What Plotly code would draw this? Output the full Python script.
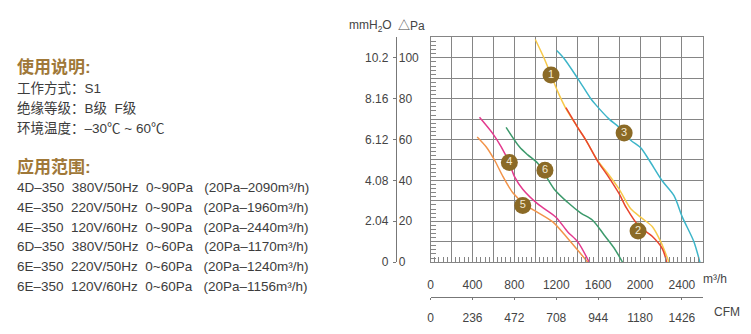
import plotly.graph_objects as go

W, H = 751, 334

# ---------------- data ----------------
x_ticks = [0, 400, 800, 1200, 1600, 2000, 2400]
x_tick_m3h = ["0", "400", "800", "1200", "1600", "2000", "2400"]
x_tick_cfm = ["0", "236", "472", "708", "944", "1180", "1426"]
y_ticks = [0, 20, 40, 60, 80, 100]
y_tick_pa = ["0", "20", "40", "60", "80", "100"]
y_tick_mm = ["0", "2.04", "4.08", "6.12", "8.16", "10.2"]

c1_x = [1000, 1086, 1150, 1213, 1292, 1404, 1483, 1594, 1689, 1800, 1911, 2023, 2118, 2197, 2276]
c1_y = [109, 99.6, 91.6, 83.6, 75.2, 66, 59.7, 49.8, 43.6, 35.7, 26.1, 21.3, 17.3, 10, 0]
c2_x = [1292, 1404, 1483, 1594, 1689, 1800, 1870, 1990, 2118, 2213, 2254]
c2_y = [75.6, 66, 59.7, 49.5, 42.5, 33.5, 26.5, 17.5, 12.5, 6.5, 0]
c3_x = [1204, 1276, 1404, 1530, 1578, 1705, 1800, 1911, 2006, 2086, 2213, 2324, 2404, 2514, 2571]
c3_y = [103.6, 99.6, 90, 80, 77, 70, 66, 59.7, 56, 50, 39.7, 32.5, 22, 10, 0]
c4_x = [467, 594, 673, 752, 800, 880, 1023, 1197, 1308, 1404, 1514]
c4_y = [70.9, 62.9, 56.5, 48.5, 42, 35.7, 28.5, 22, 14.9, 10, 0]
c5_x = [445, 530, 610, 690, 785, 914, 990, 1166, 1308, 1500]
c5_y = [61.3, 56.5, 50, 42, 34, 27.7, 25.3, 19.7, 11.7, 0]
c6_x = [721, 848, 928, 1023, 1181, 1308, 1435, 1547, 1657, 1752, 1832]
c6_y = [66, 56.5, 52.5, 48.4, 35.7, 29.3, 24, 20.5, 13.3, 6.9, 0]

label_text = ["1", "2", "3", "4", "5", "6"]
label_x = [1150, 1981, 1848, 752, 880, 1092]
label_y = [91.6, 15.2, 63.2, 48.8, 27.7, 45]

intro_title = "使用说明:"
intro_lines = ["工作方式：S1", "绝缘等级：B级  F级", "环境温度：–30℃ ~ 60℃"]
range_title = "应用范围:"
range_lines = [
    "4D–350  380V/50Hz  0~90Pa   (20Pa–2090m³/h)",
    "4E–350  220V/50Hz  0~90Pa   (20Pa–1960m³/h)",
    "4E–350  120V/60Hz  0~90Pa   (20Pa–2440m³/h)",
    "6D–350  380V/50Hz  0~60Pa   (20Pa–1170m³/h)",
    "6E–350  220V/50Hz  0~60Pa   (20Pa–1240m³/h)",
    "6E–350  120V/60Hz  0~60Pa   (20Pa–1156m³/h)",
]

curves = [
    (c1_x, c1_y, "#f7c94a"),
    (c3_x, c3_y, "#3db5c9"),
    (c4_x, c4_y, "#e33a8e"),
    (c5_x, c5_y, "#f2944a"),
    (c6_x, c6_y, "#3d9a6c"),
    (c2_x, c2_y, "#e8452e"),
]

# ---------------- figure ----------------
FONT = "Liberation Sans, Arial, Noto Sans CJK SC, sans-serif"
GRID = "#858585"
TXT = "#444444"

def px(xp):
    return xp / W

def py(yp):
    return 1 - yp / H

fig = go.Figure()
for xs, ys, col in curves:
    fig.add_trace(go.Scatter(x=xs, y=ys, mode="lines", line=dict(color=col, width=1.5, shape="spline", smoothing=0.8),
                             hoverinfo="skip", showlegend=False))

fig.add_trace(go.Scatter(x=label_x, y=label_y, mode="markers+text", text=label_text,
                         textposition="middle center",
                         textfont=dict(family=FONT, size=11, color="#f4ead6"),
                         marker=dict(size=17, color="#8b6a26", line=dict(width=0)),
                         hoverinfo="skip", showlegend=False))

xdom = [px(429.3), px(702.7)]
ydom = [py(267.7), py(38.3)]

fig.update_layout(
    width=W, height=H,
    margin=dict(l=0, r=0, t=0, b=0),
    paper_bgcolor="white", plot_bgcolor="white",
    font=dict(family=FONT, size=12, color=TXT),
    showlegend=False,
    xaxis=dict(domain=xdom, range=[0, 2600], tickmode="linear", tick0=0, dtick=200,
               showgrid=True, gridcolor=GRID, gridwidth=1, zeroline=False,
               showline=True, linecolor=GRID, linewidth=1, mirror=True,
               ticks="", showticklabels=False,
               minor=dict(tickmode="linear", tick0=0, dtick=40, ticks="inside", ticklen=5,
                          tickcolor=GRID, tickwidth=1, showgrid=False)),
    yaxis=dict(domain=ydom, range=[0, 110], tickmode="linear", tick0=0, dtick=10,
               showgrid=True, gridcolor=GRID, gridwidth=1, zeroline=False,
               showline=True, linecolor=GRID, linewidth=1, mirror=True,
               ticks="", showticklabels=False,
               minor=dict(tickmode="linear", tick0=0, dtick=2, ticks="inside", ticklen=5,
                          tickcolor=GRID, tickwidth=1, showgrid=False)),
    xaxis2=dict(overlaying="x", anchor="free", position=py(303), range=[0, 2600],
                tickmode="array", tickvals=x_ticks, ticktext=x_tick_cfm,
                showgrid=False, zeroline=False, showline=True, linecolor="#777777", linewidth=1,
                ticks="outside", ticklen=2, tickcolor="#777777", ticklabelstandoff=8,
                tickfont=dict(family=FONT, size=12, color=TXT)),
    xaxis3=dict(overlaying="x", anchor="free", position=py(282), range=[0, 2600],
                tickmode="array", tickvals=x_ticks, ticktext=x_tick_m3h,
                showgrid=False, zeroline=False, showline=False, ticks="",
                tickfont=dict(family=FONT, size=12, color=TXT)),
    yaxis2=dict(overlaying="y", anchor="free", position=px(394.3), side="right", range=[0, 110],
                tickmode="array", tickvals=y_ticks, ticktext=y_tick_pa,
                showgrid=False, zeroline=False, showline=False, ticks="",
                ticklabelstandoff=2,
                tickfont=dict(family=FONT, size=12, color=TXT)),
    yaxis3=dict(overlaying="y", anchor="free", position=px(394.3), side="left", range=[0, 110],
                tickmode="array", tickvals=y_ticks, ticktext=y_tick_mm,
                showgrid=False, zeroline=False, showline=True, linecolor="#777777", linewidth=1,
                ticks="outside", ticklen=3, tickcolor="#777777", ticklabelstandoff=2,
                tickfont=dict(family=FONT, size=12, color=TXT)),
)

# invisible traces to activate extra axes
fig.add_trace(go.Scatter(x=[None], y=[None], xaxis="x2", yaxis="y", showlegend=False, hoverinfo="skip"))
fig.add_trace(go.Scatter(x=[None], y=[None], xaxis="x3", yaxis="y", showlegend=False, hoverinfo="skip"))
fig.add_trace(go.Scatter(x=[None], y=[None], xaxis="x", yaxis="y2", showlegend=False, hoverinfo="skip"))
fig.add_trace(go.Scatter(x=[None], y=[None], xaxis="x", yaxis="y3", showlegend=False, hoverinfo="skip"))

def ann(text, xp, yp, size=12, color=TXT, xanchor="left", bold=False):
    t = text.replace(" ", "\u00a0")
    if bold:
        t = "<b>" + t + "</b>"
    fig.add_annotation(text=t, x=px(xp), y=py(yp), xref="paper", yref="paper",
                       xanchor=xanchor, yanchor="middle", showarrow=False,
                       font=dict(family=FONT, size=size, color=color))

# axis headers / units
ann("mmH<sub>2</sub>O", 345, 26.7, size=12)
ann("△Pa", 395, 26.7, size=12)
ann("m³/h", 701, 285, size=12)
ann("CFM", 712, 319, size=12)

# left text block
BROWN = "#a07838"
ann(intro_title, 12, 69, size=17, color=BROWN, bold=True)
for i, line in enumerate(intro_lines):
    ann(line, 12, 90 + i * 20.8, size=13.5, color="#3c3c3c")
ann(range_title, 12, 170.5, size=17, color=BROWN, bold=True)
for i, line in enumerate(range_lines):
    ann(line, 12, 191.5 + i * 20.2, size=13.5, color="#3c3c3c")

fig.write_html("out.html")
